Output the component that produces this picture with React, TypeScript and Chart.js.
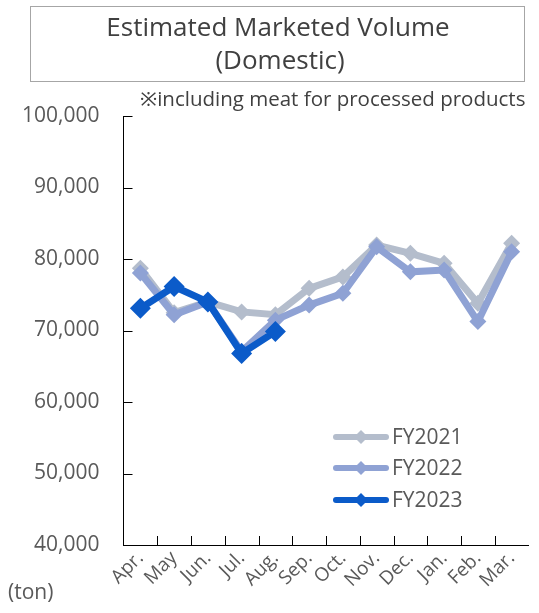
import React, { useEffect, useRef } from "react";
import { Chart, registerables } from "chart.js";

Chart.register(...registerables);

const months = ["Apr.", "May", "Jun.", "Jul.", "Aug.", "Sep.", "Oct.", "Nov.", "Dec.", "Jan.", "Feb.", "Mar."];
const fy2021 = [78700, 72500, 74000, 72600, 72200, 75900, 77500, 81950, 80800, 79400, 73800, 82200];
const fy2022 = [78050, 72200, 74000, 67050, 71450, 73550, 75200, 81700, 78200, 78450, 71250, 81000];
const fy2023 = [73100, 76150, 74000, 66800, 69850];
const seriesNames = ["FY2021", "FY2022", "FY2023"];
const seriesColors = ["#b4bdcc", "#8fa2d4", "#0b5bc9"];
const yTicks = [40000, 50000, 60000, 70000, 80000, 90000, 100000];

const FONT = "'Open Sans', 'Noto Sans', sans-serif";

const innerTicks = {
  id: "innerTicks",
  afterDraw(chart: any) {
    const ctx = chart.ctx;
    const area = chart.chartArea;
    const x = chart.scales.x;
    const y = chart.scales.y;
    ctx.save();
    ctx.strokeStyle = "#000";
    ctx.lineWidth = 1;
    ctx.beginPath();
    yTicks.forEach((v) => {
      const py = Math.round(y.getPixelForValue(v)) + 0.5;
      ctx.moveTo(area.left, py);
      ctx.lineTo(area.left + 9, py);
    });
    const n = months.length;
    for (let i = 1; i < n; i++) {
      const px = Math.round((x.getPixelForValue(i - 1) + x.getPixelForValue(i)) / 2) + 0.5;
      ctx.moveTo(px, area.bottom);
      ctx.lineTo(px, area.bottom - 9);
    }
    ctx.stroke();

    // legend
    const rows = [437, 468, 500];
    seriesNames.forEach((name, i) => {
      const cy = rows[i];
      ctx.strokeStyle = seriesColors[i];
      ctx.lineWidth = 6;
      ctx.lineCap = "round";
      ctx.beginPath();
      ctx.moveTo(336, cy);
      ctx.lineTo(386, cy);
      ctx.stroke();
      ctx.fillStyle = seriesColors[i];
      ctx.beginPath();
      const r = 7;
      ctx.moveTo(361, cy - r);
      ctx.lineTo(361 + r, cy);
      ctx.lineTo(361, cy + r);
      ctx.lineTo(361 - r, cy);
      ctx.closePath();
      ctx.fill();
      ctx.fillStyle = "#595959";
      ctx.font = `21px ${FONT}`;
      ctx.textBaseline = "middle";
      ctx.textAlign = "left";
      ctx.fillText(name, 392, cy + 1);
    });
    ctx.restore();
  },
};

export default function App() {
  const ref = useRef<HTMLCanvasElement | null>(null);

  useEffect(() => {
    document.body.style.margin = "0";
    const canvas = ref.current!;
    const mk = (i: number, data: number[], radius: number, order: number) => ({
      label: seriesNames[i],
      data,
      borderColor: seriesColors[i],
      backgroundColor: seriesColors[i],
      borderWidth: 7,
      pointStyle: "rectRot",
      pointRadius: radius,
      pointBorderWidth: 0,
      pointBackgroundColor: seriesColors[i],
      tension: 0,
      order,
    });
    const chart = new Chart(canvas, {
      type: "line",
      data: {
        labels: months,
        datasets: [mk(0, fy2021, 8.5, 3), mk(1, fy2022, 8.5, 2), mk(2, fy2023, 10.5, 1)] as any,
      },
      plugins: [innerTicks],
      options: {
        animation: false,
        responsive: false,
        maintainAspectRatio: false,
        layout: { padding: { top: 116, right: 0, left: 0, bottom: 0 } },
        plugins: { legend: { display: false }, tooltip: { enabled: false }, title: { display: false } },
        scales: {
          x: {
            type: "category",
            offset: true,
            grid: { display: false, drawTicks: false },
            border: { display: true, color: "#000", width: 1 },
            ticks: {
              color: "#595959",
              font: { family: FONT, size: 19 },
              minRotation: 45,
              maxRotation: 45,
              padding: 2,
              autoSkip: false,
            },
            afterFit: (s: any) => {
              s.height = 68;
            },
          },
          y: {
            min: 40000,
            max: 100000,
            grid: { display: false, drawTicks: false },
            border: { display: true, color: "#000", width: 1 },
            ticks: {
              stepSize: 10000,
              color: "#595959",
              font: { family: FONT, size: 21 },
              padding: 24,
              callback: (v: any) => Number(v).toLocaleString("en-US"),
            },
            afterFit: (s: any) => {
              s.width = 123.5;
            },
          },
        },
      },
    });
    return () => chart.destroy();
  }, []);

  return (
    <div style={{ position: "relative", width: 539, height: 613, fontFamily: FONT }}>
      <canvas ref={ref} width={539} height={613} style={{ position: "absolute", left: 0, top: 0 }} />
      <div
        style={{
          position: "absolute",
          left: 30,
          top: 6,
          width: 495,
          height: 76,
          border: "1px solid #a6a6a6",
          boxSizing: "border-box",
        }}
      />
      <div style={{ position: "absolute", left: 97, top: 10, width: 362, textAlign: "center", fontSize: 26, color: "#404040", lineHeight: "32px", whiteSpace: "nowrap" }}>
        Estimated Marketed Volume
      </div>
      <div style={{ position: "absolute", left: 210, top: 43, width: 140, textAlign: "center", fontSize: 26, color: "#404040", lineHeight: "32px", whiteSpace: "nowrap" }}>
        (Domestic)
      </div>
      <div style={{ position: "absolute", left: 140, top: 85, fontSize: 20.5, color: "#404040", lineHeight: "26px", whiteSpace: "nowrap" }}>
        ※including meat for processed products
      </div>
      <div style={{ position: "absolute", left: 8, top: 577, fontSize: 21, color: "#595959", lineHeight: "28px", whiteSpace: "nowrap" }}>
        (ton)
      </div>
    </div>
  );
}
